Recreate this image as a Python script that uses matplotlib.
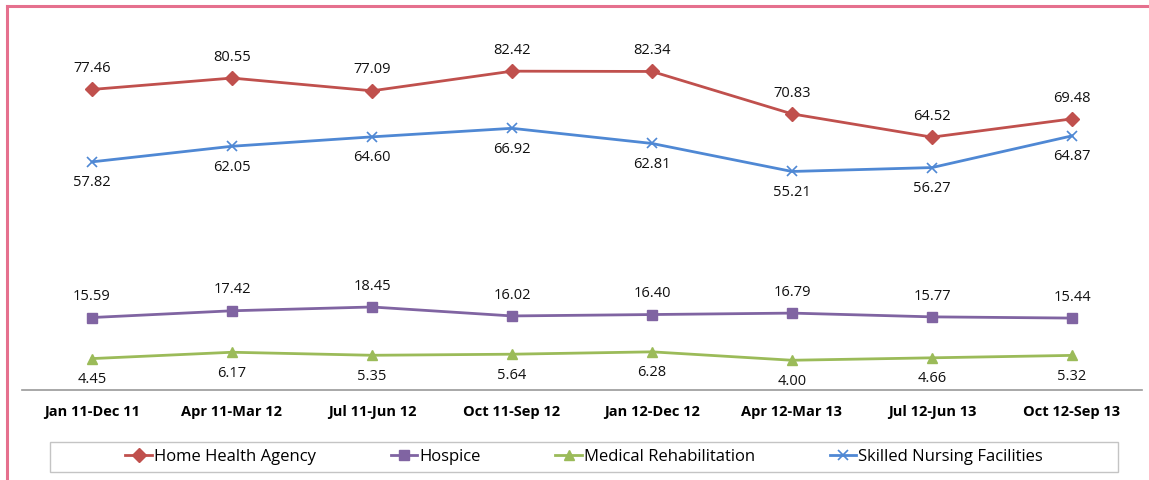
import matplotlib.pyplot as plt
from matplotlib.lines import Line2D
from matplotlib.patches import Rectangle
import numpy as np

plt.rcParams['font.family'] = ['Open Sans', 'DejaVu Sans']

periods = ['Jan 11-Dec 11', 'Apr 11-Mar 12', 'Jul 11-Jun 12', 'Oct 11-Sep 12',
           'Jan 12-Dec 12', 'Apr 12-Mar 13', 'Jul 12-Jun 13', 'Oct 12-Sep 13']
home_health = [77.46, 80.55, 77.09, 82.42, 82.34, 70.83, 64.52, 69.48]
hospice = [15.59, 17.42, 18.45, 16.02, 16.40, 16.79, 15.77, 15.44]
med_rehab = [4.45, 6.17, 5.35, 5.64, 6.28, 4.00, 4.66, 5.32]
skilled_nursing = [57.82, 62.05, 64.60, 66.92, 62.81, 55.21, 56.27, 64.87]

series = [
    ('Home Health Agency', home_health, '#C0504D', 'D', 7, 'above'),
    ('Hospice', hospice, '#8064A2', 's', 7, 'above'),
    ('Medical Rehabilitation', med_rehab, '#9BBB59', '^', 7, 'below'),
    ('Skilled Nursing Facilities', skilled_nursing, '#4F88D4', 'x', 7, 'below'),
]

fig = plt.figure(figsize=(11.49, 4.8), dpi=100)
ax = fig.add_axes([22/1149, 90/480, 1120/1149, 370/480])

x = np.arange(len(periods))
for name, vals, col, mk, ms, pos in series:
    ax.plot(x, vals, color=col, lw=2, marker=mk, ms=ms, mew=1.2 if mk == 'x' else 1,
            label=name)
    for xi, v in zip(x, vals):
        dy = 15 if pos == 'above' else -15
        ax.annotate(f'{v:.2f}', (xi, v), xytext=(0, dy), textcoords='offset points',
                    ha='center', va='center', fontsize=10.5, color='#111111')

ax.set_xlim(-0.5, len(periods) - 0.5)
ax.set_ylim(-4.07, 96.3)
ax.set_xticks(x)
ax.set_xticklabels(periods, fontsize=10.5, fontweight='bold')
ax.tick_params(axis='x', length=0, pad=11)
ax.set_yticks([])
for s in ['top', 'right', 'left']:
    ax.spines[s].set_visible(False)
ax.spines['bottom'].set_color('#999999')
ax.spines['bottom'].set_linewidth(1.2)

# legend entries without frame; box drawn separately
fig.legend(loc='center', bbox_to_anchor=(584/1149, 1 - 457/480), ncol=4,
           fontsize=12, frameon=False, handlelength=1.6, handletextpad=0.1,
           columnspacing=4.5)
fig.add_artist(Rectangle((50/1149, 1 - 472/480), 1068/1149, 30/480,
                         transform=fig.transFigure, fill=False,
                         edgecolor='#c4c4c4', lw=1))

# pink frame lines
fig.add_artist(Line2D([7/1149, 7/1149], [0, 1 - 6/480], color='#E5708E', lw=2.2))
fig.add_artist(Line2D([7/1149, 1], [1 - 6/480, 1 - 6/480], color='#E5708E', lw=2.2))

fig.savefig('out.png', dpi=100)
